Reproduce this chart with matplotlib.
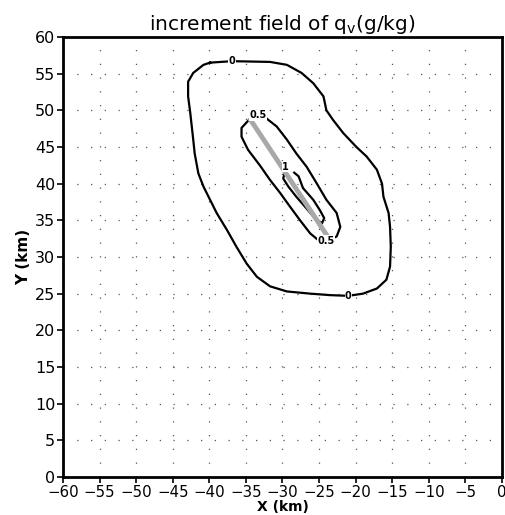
import matplotlib.pyplot as plt

# contour outlines (x km, y km)
c0_x = [-39.9, -36.9, -31.7, -29.4, -27.4, -25.8, -24.4, -24.0, -23.1, -21.7, -19.9, -18.5,
        -17.1, -16.4, -16.2, -15.5, -15.3, -15.2, -15.3, -15.8, -17.1, -19.0, -21.0, -23.5,
        -26.2, -29.4, -31.7, -33.5, -34.9, -36.3, -37.6, -39.0, -39.9, -40.8, -41.5, -42.0,
        -42.2, -42.6, -42.9, -42.9, -42.2, -40.8, -39.9]
c0_y = [56.5, 56.7, 56.6, 56.2, 55.1, 53.7, 51.9, 50.0, 48.7, 46.9, 45.0, 43.7,
        41.9, 40.0, 38.2, 36.0, 34.1, 31.4, 28.7, 26.9, 25.7, 25.0, 24.7, 24.8,
        25.0, 25.3, 26.0, 27.3, 29.1, 31.4, 33.7, 36.0, 37.8, 39.6, 41.4, 44.1,
        46.0, 49.6, 51.9, 53.9, 55.1, 56.2, 56.5]

c05_x = [-34.4, -33.3, -32.2, -30.8, -29.4, -28.1, -26.7, -25.3, -24.0, -22.6, -22.1, -22.6,
         -24.0, -25.1, -26.2, -27.6, -29.0, -30.3, -31.7, -33.1, -34.7, -35.6, -35.6, -34.4]
c05_y = [48.9, 49.2, 48.9, 47.8, 46.0, 44.1, 42.3, 40.0, 37.8, 36.0, 34.1, 32.8,
         32.1, 32.3, 33.2, 35.0, 36.9, 38.7, 40.5, 42.5, 44.6, 46.4, 47.6, 48.9]

c1_x = [-28.4, -27.8, -27.2, -25.8, -24.9, -24.3, -24.6, -25.6, -26.7, -28.1, -29.2, -29.9, -29.7]
c1_y = [41.5, 41.0, 39.4, 37.8, 36.4, 35.3, 34.6, 35.3, 36.6, 38.2, 39.6, 40.7, 41.6]

# observation line
obs_x = [-34.5, -23.5]
obs_y = [48.9, 32.3]

# contour labels
lab_txt = ['0', '0', '0.5', '0.5', '1']
lab_x = [-36.9, -21.0, -33.3, -24.0, -29.6]
lab_y = [56.7, 24.7, 49.3, 32.2, 42.3]

fig = plt.figure(figsize=(5.06, 5.15), dpi=100)
ax = fig.add_axes([0.1245, 0.0738, 0.8676, 0.8544])

ax.plot(c0_x, c0_y, color='black', lw=1.6)
ax.plot(c05_x, c05_y, color='black', lw=1.6)
ax.plot(c1_x, c1_y, color='black', lw=1.6)
ax.plot(obs_x, obs_y, color='#a8a8a8', lw=3.5, solid_capstyle='butt', zorder=3)

for t, x, y in zip(lab_txt, lab_x, lab_y):
    ax.text(x, y, t, fontsize=7, fontweight='bold', ha='center', va='center', zorder=4,
            bbox=dict(facecolor='white', edgecolor='none', pad=0.3))

ax.set_xlim(-60, 0)
ax.set_ylim(0, 60)
ax.set_xticks(range(-60, 1, 5))
ax.set_yticks(range(0, 61, 5))
ax.grid(True, color='#555555', linestyle=(0, (1, 10)), linewidth=0.9)
ax.tick_params(direction='out', length=4.5, width=1.2, labelsize=11.5)
ax.tick_params(axis='x', pad=1, labelsize=10.8)
ax.tick_params(axis='y', pad=1)
for s in ax.spines.values():
    s.set_linewidth(2)

ax.set_title(r'increment field of q$_\mathrm{v}$(g/kg)', fontsize=14.5, pad=5)
ax.set_xlabel('X (km)', fontsize=10, fontweight='bold', labelpad=0)
ax.set_ylabel('Y (km)', fontsize=11, fontweight='bold', labelpad=3)

fig.savefig('out.png', dpi=100)
